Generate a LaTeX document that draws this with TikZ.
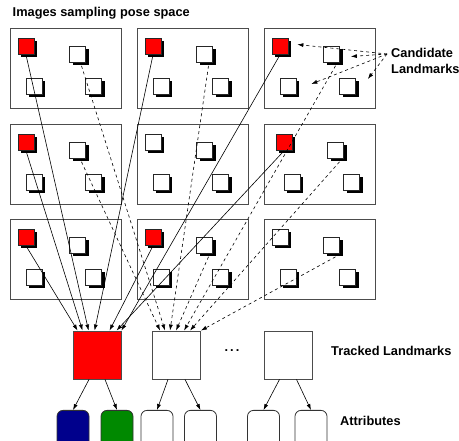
\documentclass[tikz,border=0pt]{standalone}
\usepackage{fontspec}
\setmainfont{Liberation Sans}
\usetikzlibrary{arrows.meta,shadows,calc}
\definecolor{hotred}{RGB}{255,0,0}
\definecolor{attblue}{RGB}{0,0,140}
\definecolor{attgreen}{RGB}{0,137,0}
\begin{document}
\begin{tikzpicture}[x=1pt,y=-1pt,
  font=\bfseries\fontsize{12.8}{16}\selectfont,
  frame/.style={draw=black!70,line width=0.9pt,minimum width=111pt,minimum height=80pt,inner sep=0pt,anchor=north west},
  lm/.style={draw=black!85,fill=white,line width=0.7pt,minimum size=16pt,inner sep=0pt,
    drop shadow={shadow xshift=3pt,shadow yshift=-3pt,opacity=1,fill=black}},
  lmhot/.style={lm,fill=hotred},
  trk/.style={draw=black!70,line width=0.9pt,minimum size=48pt,inner sep=0pt},
  attr/.style={draw=black!80,line width=0.8pt,rounded corners=6pt,minimum width=32pt,minimum height=40pt,inner sep=0pt,anchor=north},
  link/.style={line width=0.6pt,-{Latex[length=6pt,width=4pt]}},
  dlink/.style={link,dashed},
  lbl/.style={inner sep=0pt,anchor=west,align=left}]
\useasboundingbox (0,0) rectangle (459,441);
\clip (0,0) rectangle (459,441);

% grid of sampled images
\foreach \r/\fy in {1/28,2/124,3/219}
  \foreach \c/\fx in {1/10,2/137,3/264}
    \node[frame] (f\r\c) at (\fx,\fy) {};

% candidate landmarks inside each image
\foreach \r/\c/\hot/\dx in {1/1/lmhot/0,1/2/lmhot/0,1/3/lmhot/0,
                             2/1/lmhot/0,2/2/lm/0,2/3/lmhot/4,
                             3/1/lmhot/0,3/2/lmhot/0,3/3/lm/0} {
  \node[\hot] (s\r\c-1) at ($(f\r\c.north west)+(16+\dx,18.5)$) {};
  \node[lm]   (s\r\c-2) at ($(f\r\c.north west)+(67.5+\dx,26.5)$) {};
  \node[lm]   (s\r\c-3) at ($(f\r\c.north west)+(24+\dx,58)$) {};
  \node[lm]   (s\r\c-4) at ($(f\r\c.north west)+(83.5+\dx,58)$) {};
}

% tracked landmarks
\node[trk,fill=hotred] (T1) at (97,355) {};
\node[trk,fill=white]  (T2) at (176.5,355) {};
\node[trk,fill=white]  (T3) at (288,355) {};
\node (dots) at (232,351) {.\,.\,.};

% attributes
\node[attr,fill=attblue]  (A1) at (73,410) {};
\node[attr,fill=attgreen] (A2) at (117,410) {};
\node[attr] (A3) at (157,410) {};
\node[attr] (A4) at (200.5,410) {};
\node[attr] (A5) at (263.5,410) {};
\node[attr] (A6) at (311,410) {};

% labels
\node[lbl] (title) at (12.5,13) {Images sampling pose space};
\node[lbl] (cand) at (391,61) {Candidate\\Landmarks};
\node[lbl] (trklbl) at (331,351) {Tracked Landmarks};
\node[lbl] (attlbl) at (340,421) {Attributes};

% candidate label pointers
\coordinate (cl) at (387,54);
\draw[dlink] (cl) -- ([xshift=9pt,yshift=2pt]s13-1.east);
\draw[dlink] (cl) -- ([xshift=11pt,yshift=-2pt]s13-2.east);
\draw[dlink] (cl) -- ([xshift=15pt,yshift=2pt]s13-3.east);
\draw[dlink] (cl) -- ([xshift=12pt,yshift=7pt]s13-4.east);

% observations of the red landmark
\draw[link] (s31-1.south) -- ([xshift=5pt]T1.north west);
\draw[link] (s21-1.south) -- ([xshift=10pt]T1.north west);
\draw[link] (s11-1.south) -- ([xshift=16pt]T1.north west);
\draw[link] (s12-1.south) -- ([xshift=22pt]T1.north west);
\draw[link] (s32-1.south) -- ([xshift=37pt]T1.north west);
\draw[link] (s23-1.south) -- ([xshift=44pt]T1.north west);
\draw[link] (s13-1.south) -- (T1.north east);

% observations of the second landmark
\draw[dlink] ([xshift=4pt,yshift=-3pt]s21-2.south) -- ([xshift=8pt]T2.north west);
\draw[dlink] ([xshift=4pt,yshift=-3pt]s11-2.south) -- ([xshift=13pt]T2.north west);
\draw[dlink] ([xshift=4pt,yshift=-3pt]s12-2.south) -- ([xshift=18pt]T2.north west);
\draw[dlink] ([xshift=4pt,yshift=-3pt]s32-2.south) -- ([xshift=24pt]T2.north west);
\draw[dlink] ([xshift=4pt,yshift=-3pt]s13-2.south) -- ([xshift=32pt]T2.north west);
\draw[dlink] ([xshift=4pt,yshift=-3pt]s23-2.south) -- ([xshift=38pt]T2.north west);
\draw[dlink] ([xshift=4pt,yshift=-3pt]s33-2.south) -- (T2.north east);

% attribute links
\draw[link] ([xshift=-8pt]T1.south) -- (A1.north);
\draw[link] ([xshift=8pt]T1.south)  -- (A2.north);
\draw[link] ([xshift=-8.5pt]T2.south) -- (A3.north);
\draw[link] ([xshift=8.5pt]T2.south)  -- (A4.north);
\draw[link] ([xshift=-8.5pt]T3.south) -- (A5.north);
\draw[link] ([xshift=8.5pt]T3.south)  -- (A6.north);
\end{tikzpicture}
\end{document}
